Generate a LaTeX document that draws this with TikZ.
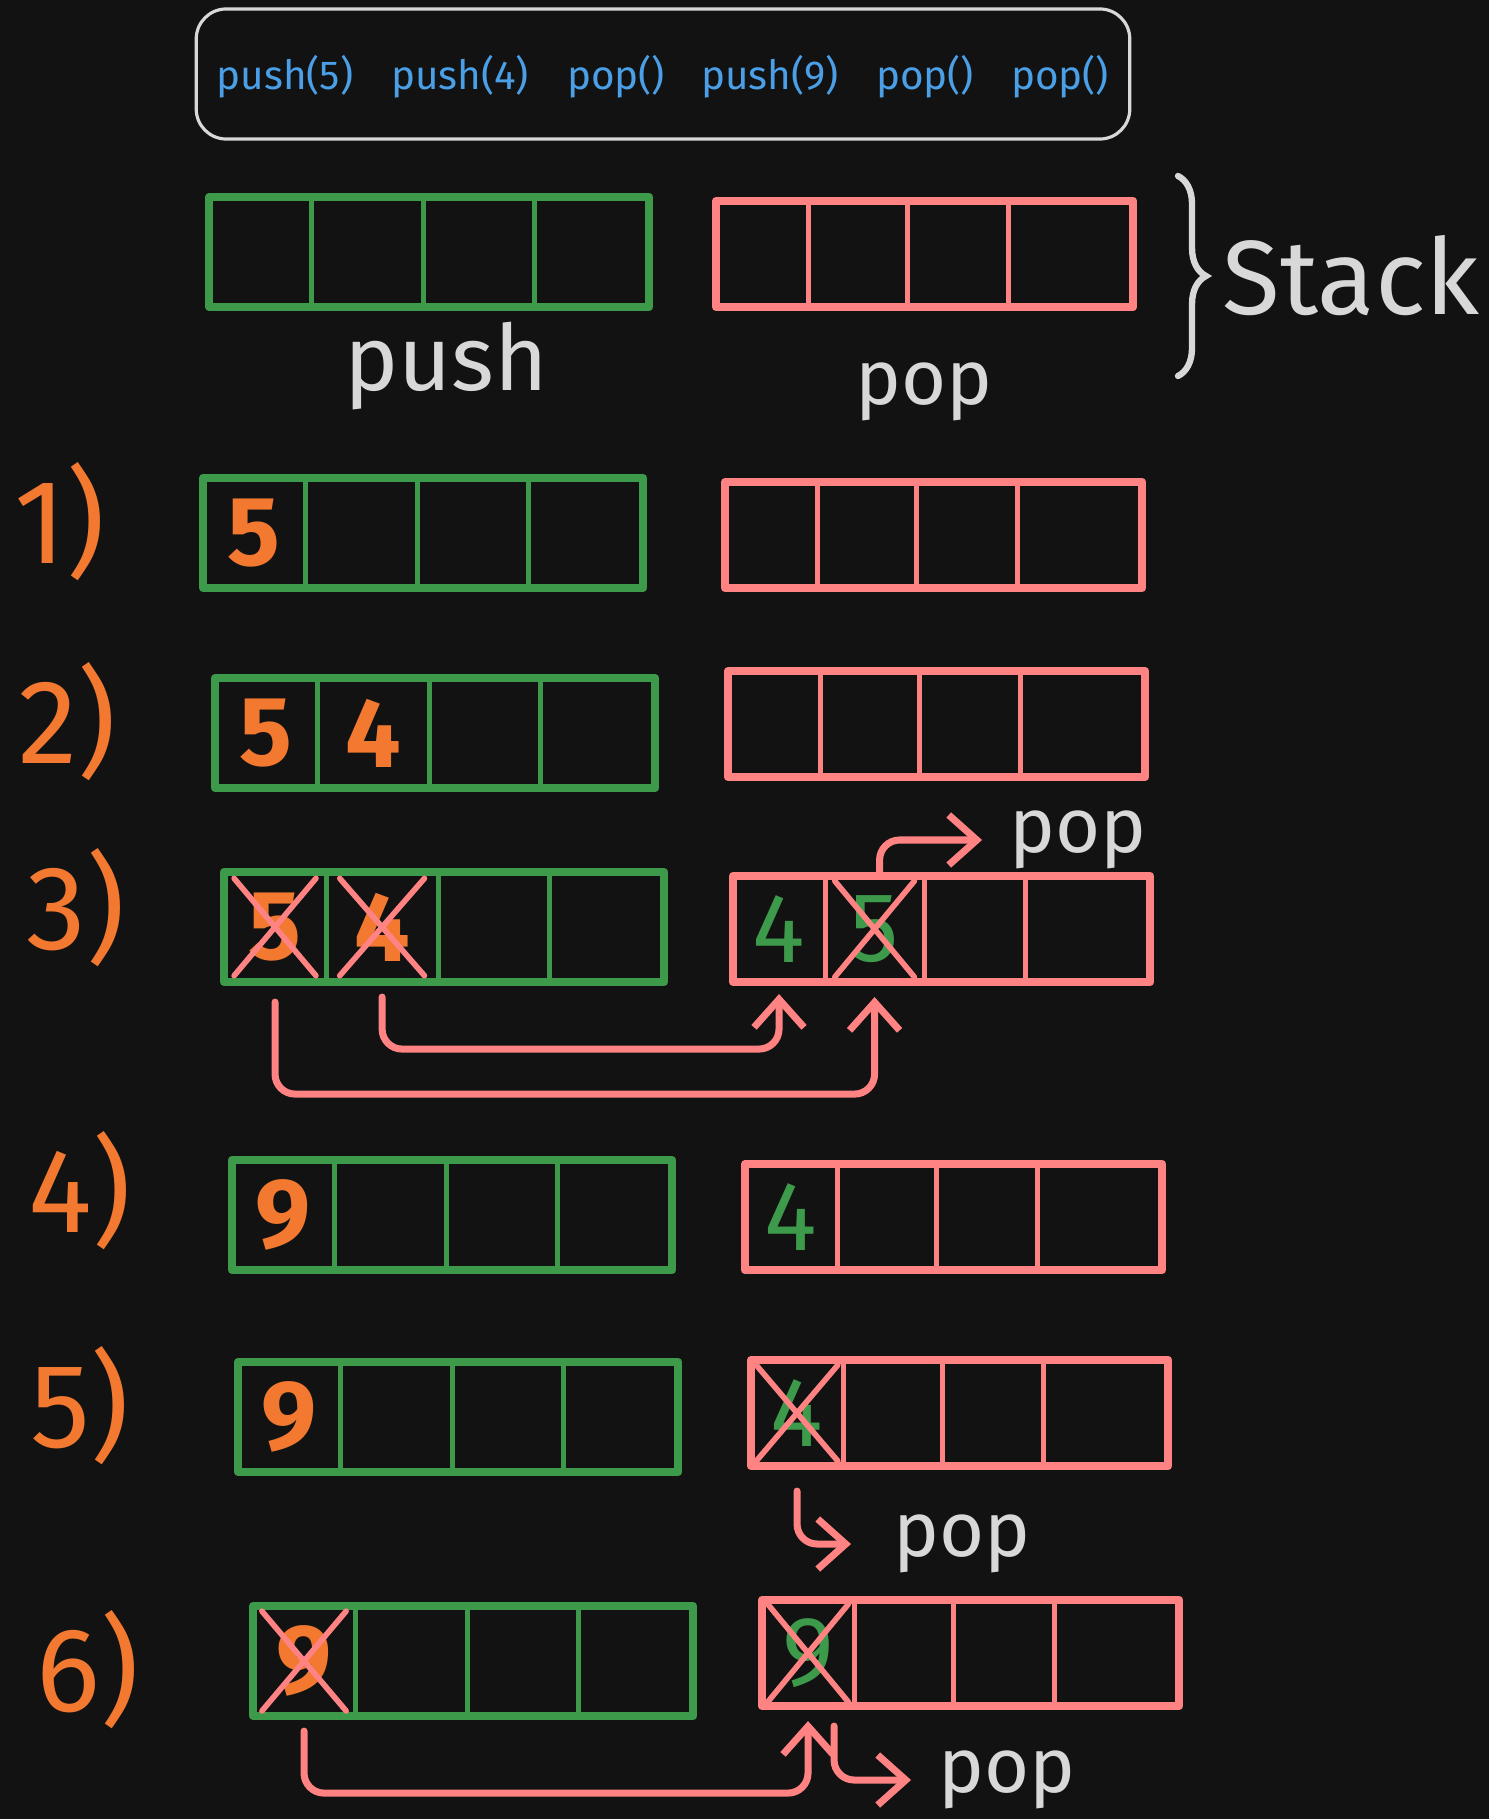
\documentclass[tikz,border=0pt]{standalone}
\usepackage{fontspec}
\setmainfont{Fira Sans}
\usetikzlibrary{positioning,arrows.meta,shapes.misc,decorations.pathreplacing}

\definecolor{bgdark}{HTML}{121212}
\definecolor{pushgreen}{HTML}{3D9A4B}
\definecolor{popred}{HTML}{FF8383}
\definecolor{steporange}{HTML}{F2792F}
\definecolor{opblue}{HTML}{4A9FE6}
\definecolor{handgray}{HTML}{D8D8D8}

\tikzset{
  gcell/.style={draw=pushgreen, line width=1.4pt, minimum height=1.10cm, outer sep=0pt, inner sep=0pt},
  rcell/.style={draw=popred, line width=1.4pt, minimum height=1.06cm, outer sep=0pt, inner sep=0pt},
  gframe/.style={draw=pushgreen, line width=2.3pt, line join=round},
  rframe/.style={draw=popred, line width=2.3pt, line join=round},
  optext/.style={text=opblue, font=\fontsize{11.5}{13}\selectfont},
  steplabel/.style={text=steporange, anchor=west, font=\fontsize{34}{38}\selectfont},
  handtext/.style={text=handgray, font=\fontsize{22}{24}\selectfont},
  orangedigit/.style={text=steporange, font=\fontsize{28}{30}\selectfont\bfseries},
  greendigit/.style={text=pushgreen, font=\fontsize{28}{30}\selectfont},
  crossed/.style={cross out, draw=popred, line width=1.6pt, line cap=round, minimum width=0.74cm, minimum height=0.84cm},
  poparrow/.style={draw=popred, line width=2pt, line cap=round, rounded corners=0.2cm, -{Straight Barb[length=0.28cm, width=0.5cm]}}
}

\begin{document}
\begin{tikzpicture}[x=0.01cm,y=-0.01cm]

\fill[bgdark] (0,0) rectangle (1489,1819);
\useasboundingbox (0,0) rectangle (1489,1819);

%%%%%%%%%%%%%%%%%%%% Operations %%%%%%%%%%%%%%%%%%%%%%%%%%
\node[draw=handgray, line width=0.9pt, rounded corners=0.3cm, minimum width=9.33cm, minimum height=1.30cm] (ops) at (663,74) {};

\node[optext] (op1) at (285,77) {push(5)};
\node[optext] (op2) at (460,77) {push(4)};
\node[optext] (op3) at (616,77) {pop()};
\node[optext] (op4) at (770,77) {push(9)};
\node[optext] (op5) at (925,77) {pop()};
\node[optext] (op6) at (1060,77) {pop()};

%%%%%%%%%%%%%%%%%%%% Stacks %%%%%%%%%%%%%%%%%%%%%%%%%%
\foreach \row/\gx/\gy/\rx/\ry in {0/209/197/716/201, 1/203/478/725/482, 2/215/678/728/671, 3/224/872/733/876, 4/232/1160/745/1164, 5/238/1362/751/1360, 6/253/1606/762/1600}
{
    %push stack
    \node[gcell, minimum width=1.02cm, anchor=north west] (g\row c1) at (\gx,\gy) {};
    \foreach \i/\w [count=\j from 2] in {1/1.12, 2/1.11, 3/1.15}
    {
        \node[gcell, minimum width=\w cm, right=0pt of g\row c\i] (g\row c\j) {};
    }
    \draw[gframe] (g\row c1.north west) rectangle (g\row c4.south east);

    %pop stack
    \node[rcell, minimum width=0.92cm, anchor=north west] (r\row c1) at (\rx,\ry) {};
    \foreach \i/\w [count=\j from 2] in {1/0.99, 2/1.01, 3/1.25}
    {
        \node[rcell, minimum width=\w cm, right=0pt of r\row c\i] (r\row c\j) {};
    }
    \draw[rframe] (r\row c1.north west) rectangle (r\row c4.south east);
}

% titles
\node[handtext, font=\fontsize{26}{28}\selectfont] (pushlbl) at (446,366) {push};
\node[handtext] (poplbl) at (924,392) {pop};

\coordinate (bracetop) at (1178,176);
\coordinate (bracebot) at (1178,376);
\draw[handgray, line width=1.8pt, line cap=round, decorate, decoration={brace, amplitude=0.28cm}] (bracetop) -- (bracebot);
\node[handtext, font=\fontsize{30}{32}\selectfont] (stacklbl) at (1351,276) {Stack};

% step numbers
\node[steplabel] (s1) at (2,522) {1)};
\node[steplabel] (s2) at (6,722) {2)};
\node[steplabel] (s3) at (14,908) {3)};
\node[steplabel] (s4) at (16,1191) {4)};
\node[steplabel] (s5) at (18,1406) {5)};
\node[steplabel] (s6) at (24,1670) {6)};

%%%%%%%%%%%%%%%%%%%% Values %%%%%%%%%%%%%%%%%%%%%%%%%%
\node[orangedigit] (d1a) at (g1c1) {5};

\node[orangedigit] (d2a) at (g2c1) {5};
\node[orangedigit] (d2b) at (g2c2) {4};

\node[orangedigit, crossed] (d3a) at (g3c1) {5};
\node[orangedigit, crossed] (d3b) at (g3c2) {4};
\node[greendigit] (d3c) at (r3c1) {4};
\node[greendigit, crossed] (d3d) at (r3c2) {5};

\node[orangedigit] (d4a) at (g4c1) {9};
\node[greendigit] (d4b) at (r4c1) {4};

\node[orangedigit] (d5a) at (g5c1) {9};
\node[greendigit, crossed] (d5b) at (r5c1) {4};

\node[orangedigit, crossed] (d6a) at (g6c1) {9};
\node[greendigit, crossed] (d6b) at (r6c1) {9};

%%%%%%%%%%%%%%%%%%%% Moves %%%%%%%%%%%%%%%%%%%%%%%%%%
\node[handtext] (pop3) at (1078,840) {pop};
\node[handtext] (pop5) at (962,1544) {pop};
\node[handtext] (pop6) at (1007,1780) {pop};

% step 3
\draw[poparrow] ([xshift=0.05cm]r3c2.north) |- ([xshift=-0.15cm]pop3.west);
\draw[poparrow] ([yshift=-0.15cm]g3c2.south) -- ++(0,52) -| ([yshift=-0.12cm]r3c1.south);
\draw[poparrow] ([yshift=-0.2cm]g3c1.south) -- ++(0,92) -| ([yshift=-0.15cm]r3c2.south);

% step 5
\draw[poparrow] ([yshift=-0.25cm]r5c1.south) |- ([xshift=-0.3cm]pop5.west);

% step 6
\draw[poparrow] ([yshift=-0.15cm]g6c1.south) -- ++(0,62) -| ([yshift=-0.15cm]r6c1.south);
\draw[poparrow] ([xshift=-0.2cm,yshift=-0.2cm]r6c1.south east) |- ([xshift=-0.15cm]pop6.west);

\end{tikzpicture}
\end{document}
